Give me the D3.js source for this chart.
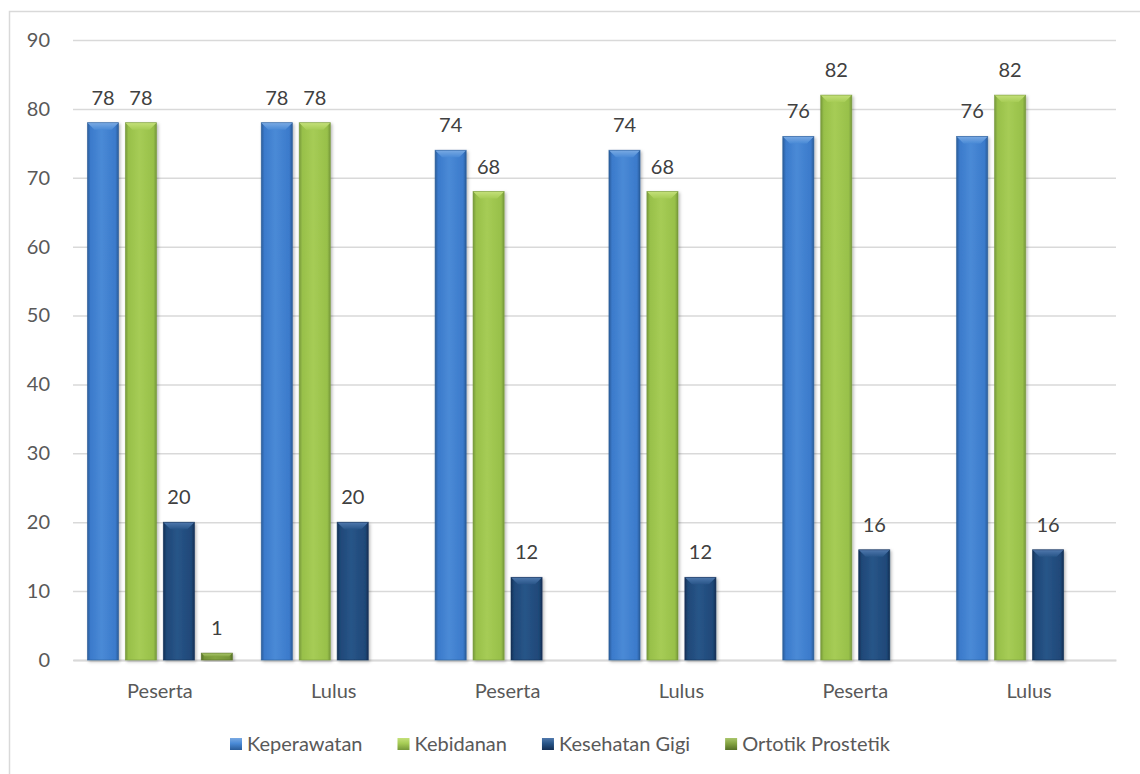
<!DOCTYPE html>
<html>
<head>
<meta charset="utf-8">
<script src="https://cdn.jsdelivr.net/npm/d3@7"></script>
<style>
  html, body { margin: 0; padding: 0; background: #fff; }
  svg { display: block; }
  text { font-family: Lato, "Open Sans", sans-serif; }
</style>
</head>
<body>
<svg id="chart" width="1140" height="774"></svg>
<script>
// Category labels along the x axis
const categories = ["Peserta", "Lulus", "Peserta", "Lulus", "Peserta", "Lulus"];

// Series names and values (null = no bar)
const seriesNames = ["Keperawatan", "Kebidanan", "Kesehatan Gigi", "Ortotik Prostetik"];
const keperawatan = [78, 78, 74, 74, 76, 76];
const kebidanan = [78, 78, 68, 68, 82, 82];
const kesehatanGigi = [20, 20, 12, 12, 16, 16];
const ortotikProstetik = [1, null, null, null, null, null];

// Value axis ticks
const yTicks = [0, 10, 20, 30, 40, 50, 60, 70, 80, 90];

const seriesValues = [keperawatan, kebidanan, kesehatanGigi, ortotikProstetik];

// Bevel palette per series: edge, base, light, top highlight
const palette = [
  { edge: "#2a5c99", base: "#3b7acb", light: "#4a8ad6", top: "#7aaae3" },
  { edge: "#76983a", base: "#98c04a", light: "#a6cc55", top: "#c4e07a" },
  { edge: "#142f55", base: "#1f4878", light: "#285588", top: "#5079ad" },
  { edge: "#556f26", base: "#769538", light: "#84a442", top: "#a9c56b" }
];

const svg = d3.select("#chart");
const defs = svg.append("defs");

// Soft drop shadow under each bar
const shadow = defs.append("filter").attr("id", "barShadow")
  .attr("x", "-30%").attr("y", "-10%").attr("width", "160%").attr("height", "130%");
shadow.append("feDropShadow").attr("dx", 1.5).attr("dy", 1.5)
  .attr("stdDeviation", 1.5).attr("flood-color", "#000").attr("flood-opacity", 0.28);

palette.forEach((p, i) => {
  const g = defs.append("linearGradient").attr("id", "face" + i)
    .attr("x1", "0%").attr("x2", "100%").attr("y1", "0%").attr("y2", "0%");
  [[0, p.edge], [0.1, p.base], [0.45, p.light], [0.9, p.base], [1, p.edge]]
    .forEach(([o, c]) => g.append("stop").attr("offset", o).attr("stop-color", c));
  const t = defs.append("linearGradient").attr("id", "top" + i)
    .attr("x1", "0%").attr("x2", "0%").attr("y1", "0%").attr("y2", "100%");
  [[0, p.top], [1, p.light]]
    .forEach(([o, c]) => t.append("stop").attr("offset", o).attr("stop-color", c));
  const s = defs.append("linearGradient").attr("id", "sw" + i)
    .attr("x1", "0%").attr("x2", "0%").attr("y1", "0%").attr("y2", "100%");
  [[0, p.top], [0.45, p.light], [1, p.edge]]
    .forEach(([o, c]) => s.append("stop").attr("offset", o).attr("stop-color", c));
});

// Outer chart frame
svg.append("rect")
  .attr("x", 9.5).attr("y", 11.5).attr("width", 1150).attr("height", 800)
  .attr("fill", "none").attr("stroke", "#d9d9d9").attr("stroke-width", 1.5);

const plot = { left: 73, right: 1116, top: 40, bottom: 660 };

const x0 = d3.scaleBand()
  .domain(d3.range(categories.length))
  .range([plot.left, plot.right])
  .padding(0);

const x1 = d3.scaleBand()
  .domain(d3.range(seriesNames.length))
  .range([0, x0.bandwidth()])
  .paddingInner(0.18)
  .paddingOuter(0.38);

const y = d3.scaleLinear().domain([0, 90]).range([plot.bottom, plot.top]);

// Horizontal gridlines and value labels
const yAxis = d3.axisLeft(y).tickValues(yTicks)
  .tickSize(-(plot.right - plot.left)).tickPadding(23).tickFormat(d3.format("d"));
const yG = svg.append("g").attr("transform", `translate(${plot.left},0)`).call(yAxis);
yG.select(".domain").remove();
yG.selectAll(".tick line").attr("stroke", "#d9d9d9").attr("stroke-width", 1.5);
yG.selectAll(".tick text").attr("fill", "#595959").attr("font-size", 20)
  .attr("font-family", "Lato, 'Open Sans', sans-serif");

// Category axis
const xAxis = d3.axisBottom(x0).tickSize(0).tickPadding(24)
  .tickFormat(i => categories[i]);
const xG = svg.append("g").attr("transform", `translate(0,${plot.bottom})`).call(xAxis);
xG.select(".domain").attr("stroke", "#d9d9d9").attr("stroke-width", 2);
xG.selectAll(".tick text").attr("fill", "#595959").attr("font-size", 20)
  .attr("font-family", "Lato, 'Open Sans', sans-serif");

// Bars
const bars = [];
categories.forEach((c, ci) => {
  seriesValues.forEach((vals, si) => {
    if (vals[ci] != null) bars.push({ ci, si, v: vals[ci] });
  });
});

const barG = svg.append("g");
bars.forEach(d => {
  const bx = x0(d.ci) + x1(d.si);
  const bw = x1.bandwidth();
  const by = y(d.v);
  const bh = y(0) - by;
  const b = Math.min(7, bh / 2);
  const g = barG.append("g").attr("filter", "url(#barShadow)");
  g.append("rect").attr("x", bx).attr("y", by).attr("width", bw).attr("height", bh)
    .attr("fill", `url(#face${d.si})`);
  g.append("polygon")
    .attr("points", [[bx, by], [bx + bw, by], [bx + bw - b, by + b], [bx + b, by + b]]
      .map(p => p.join(",")).join(" "))
    .attr("fill", `url(#top${d.si})`);
  g.append("rect").attr("x", bx).attr("y", by).attr("width", bw).attr("height", bh)
    .attr("fill", "none").attr("stroke", palette[d.si].edge).attr("stroke-width", 0.8)
    .attr("stroke-opacity", 0.7);
});

// Value labels above bars
svg.append("g").selectAll("text").data(bars).join("text")
  .attr("x", d => x0(d.ci) + x1(d.si) + x1.bandwidth() / 2)
  .attr("y", d => y(d.v) - 18)
  .attr("text-anchor", "middle")
  .attr("font-size", 20)
  .attr("fill", "#404040")
  .text(d => d.v);

// Legend
const legend = svg.append("g").attr("transform", "translate(230,751)");
let lx = 0;
seriesNames.forEach((name, i) => {
  const item = legend.append("g").attr("transform", `translate(${lx},0)`);
  item.append("rect").attr("x", 0).attr("y", -13).attr("width", 12).attr("height", 12)
    .attr("fill", `url(#sw${i})`);
  const t = item.append("text").attr("x", 17).attr("y", 0)
    .attr("font-size", 20).attr("fill", "#595959").text(name);
  lx += 17 + t.node().getComputedTextLength() + 35;
});
</script>
</body>
</html>
